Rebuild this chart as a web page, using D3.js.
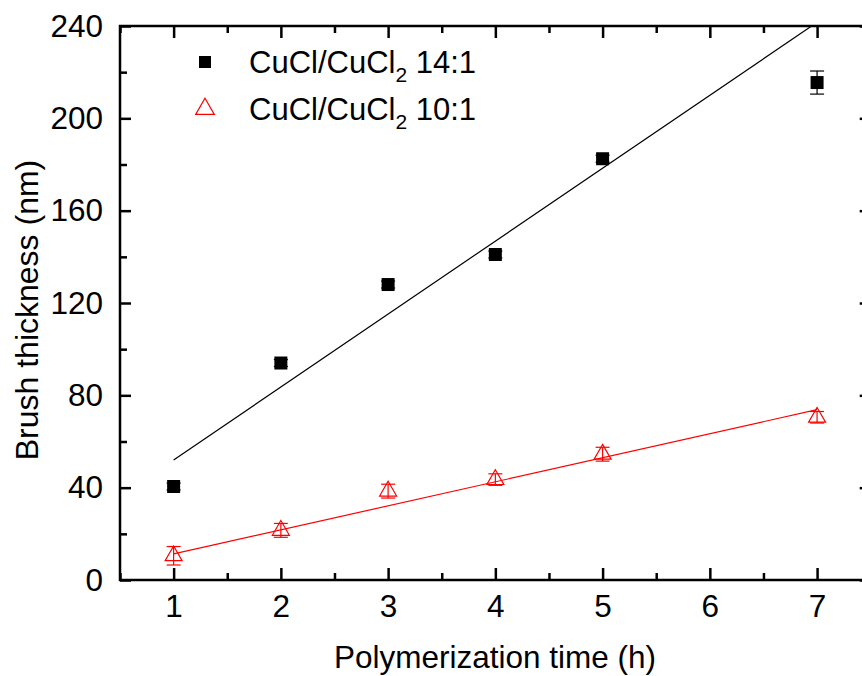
<!DOCTYPE html>
<html>
  <head>
    <meta charset="utf-8">
    <script src="https://d3js.org/d3.v7.min.js"></script>
    <style>
      body { margin: 0; background: #fff; }
      text { font-family: "Liberation Sans", Arial, sans-serif; fill: #000; }
    </style>
  </head>
<body>
  <script type="text/javascript">
    // data
    var hours = [1, 2, 3, 4, 5, 7];
    var thick14 = [40.5, 94, 128, 141, 182.5, 215.5];
    var err14 = [1.5, 1.5, 1.5, 1.5, 1.5, 5];
    var thick10 = [10.5, 21.5, 38.5, 43.5, 54.5, 70.5];
    var err10 = [4, 3, 3, 2.5, 3, 2.5];
    // linear fit lines, end points
    var fitHours = [1, 7];
    var fit14 = [52, 241.6];
    var fit10 = [11.3, 73.8];
    var xTicks = [1, 2, 3, 4, 5, 6, 7];
    var xMinor = [0.5, 1.5, 2.5, 3.5, 4.5, 5.5, 6.5, 7.5];
    var yTicks = [0, 40, 80, 120, 160, 200, 240];
    var yMinor = [20, 60, 100, 140, 180, 220];
    var legendLabels = [["CuCl/CuCl", "2", " 14:1"], ["CuCl/CuCl", "2", " 10:1"]];

    var width = 862, height = 676;
    var pLeft = 120, pRight = 870.7, pTop = 26, pBottom = 580;

    var svg = d3.select("body").append("svg")
        .attr("width", width)
        .attr("height", height);

    var x = d3.scaleLinear().domain([0.5, 7.5]).range([pLeft, pRight]);
    var y = d3.scaleLinear().domain([0, 240]).range([pBottom, pTop]);

    svg.append("clipPath").attr("id", "plot")
      .append("rect")
        .attr("x", pLeft).attr("y", pTop)
        .attr("width", pRight - pLeft).attr("height", pBottom - pTop);

    /*
      axes, ticks pointing inwards
    */
    function styleAxis(g) {
      g.attr("font-size", 31.5).attr("font-family", "Liberation Sans, Arial, sans-serif");
      g.selectAll(".domain").remove();
      g.selectAll("line").attr("stroke", "#000").attr("stroke-width", 2.5);
      g.selectAll("text").attr("fill", "#000");
    }

    svg.append("g").attr("transform", "translate(0," + pBottom + ")")
      .call(d3.axisBottom(x).tickValues(xTicks).tickFormat(d3.format("d"))
            .tickSizeInner(-12).tickSizeOuter(0).tickPadding(15))
      .call(styleAxis);
    svg.append("g").attr("transform", "translate(0," + pBottom + ")")
      .call(d3.axisBottom(x).tickValues(xMinor).tickFormat("")
            .tickSizeInner(-7).tickSizeOuter(0))
      .call(styleAxis);
    svg.append("g").attr("transform", "translate(0," + pTop + ")")
      .call(d3.axisTop(x).tickValues(xTicks).tickFormat("")
            .tickSizeInner(-12).tickSizeOuter(0))
      .call(styleAxis);
    svg.append("g").attr("transform", "translate(0," + pTop + ")")
      .call(d3.axisTop(x).tickValues(xMinor).tickFormat("")
            .tickSizeInner(-7).tickSizeOuter(0))
      .call(styleAxis);

    svg.append("g").attr("transform", "translate(" + pLeft + ",0)")
      .call(d3.axisLeft(y).tickValues(yTicks)
            .tickSizeInner(-11).tickSizeOuter(0).tickPadding(17))
      .call(styleAxis);
    svg.append("g").attr("transform", "translate(" + pLeft + ",0)")
      .call(d3.axisLeft(y).tickValues(yMinor).tickFormat("")
            .tickSizeInner(-7).tickSizeOuter(0))
      .call(styleAxis);
    svg.append("g").attr("transform", "translate(" + pRight + ",0)")
      .call(d3.axisRight(y).tickValues(yTicks).tickFormat("")
            .tickSizeInner(-11).tickSizeOuter(0))
      .call(styleAxis);
    svg.append("g").attr("transform", "translate(" + pRight + ",0)")
      .call(d3.axisRight(y).tickValues(yMinor).tickFormat("")
            .tickSizeInner(-7).tickSizeOuter(0))
      .call(styleAxis);

    // frame
    svg.append("rect")
      .attr("x", pLeft).attr("y", pTop)
      .attr("width", pRight - pLeft).attr("height", pBottom - pTop)
      .attr("fill", "none").attr("stroke", "#000").attr("stroke-width", 2.5);

    // axis titles
    svg.append("text")
      .attr("x", 495).attr("y", 668)
      .attr("text-anchor", "middle").attr("font-size", 31.5)
      .text("Polymerization time (h)");
    svg.append("text")
      .attr("transform", "translate(38,310) rotate(-90)")
      .attr("text-anchor", "middle").attr("font-size", 32)
      .text("Brush thickness (nm)");

    /*
      fit lines
    */
    var plot = svg.append("g").attr("clip-path", "url(#plot)");
    var line = d3.line().x(function(d) { return x(d[0]); })
                        .y(function(d) { return y(d[1]); });
    plot.append("path").datum(d3.zip(fitHours, fit14))
      .attr("d", line).attr("fill", "none")
      .attr("stroke", "#000").attr("stroke-width", 1.2);
    plot.append("path").datum(d3.zip(fitHours, fit10))
      .attr("d", line).attr("fill", "none")
      .attr("stroke", "#f00").attr("stroke-width", 1.2);

    /*
      error bars and markers
    */
    function errorBars(vals, errs, color) {
      var g = svg.append("g").attr("stroke", color).attr("stroke-width", 1.2);
      hours.forEach(function(h, i) {
        var cx = x(h), lo = y(vals[i] - errs[i]), hi = y(vals[i] + errs[i]);
        g.append("line").attr("x1", cx).attr("x2", cx).attr("y1", lo).attr("y2", hi);
        g.append("line").attr("x1", cx - 7).attr("x2", cx + 7).attr("y1", lo).attr("y2", lo);
        g.append("line").attr("x1", cx - 7).attr("x2", cx + 7).attr("y1", hi).attr("y2", hi);
      });
    }
    errorBars(thick14, err14, "#000");
    errorBars(thick10, err10, "#f00");

    var square = d3.symbol().type(d3.symbolSquare).size(169);
    var triangle = d3.symbol().type(d3.symbolTriangle).size(125);

    svg.append("g").selectAll("path").data(hours).join("path")
      .attr("transform", function(d, i) { return "translate(" + x(d) + "," + y(thick14[i]) + ")"; })
      .attr("d", square).attr("fill", "#000");
    svg.append("g").selectAll("path").data(hours).join("path")
      .attr("transform", function(d, i) { return "translate(" + x(d) + "," + y(thick10[i]) + ")"; })
      .attr("d", triangle).attr("fill", "none")
      .attr("stroke", "#f00").attr("stroke-width", 1.2);

    /*
      legend
    */
    var legend = svg.append("g");
    legend.append("path").attr("transform", "translate(205,62)")
      .attr("d", d3.symbol().type(d3.symbolSquare).size(144)).attr("fill", "#000");
    legend.append("path").attr("transform", "translate(205,109)")
      .attr("d", d3.symbol().type(d3.symbolTriangle).size(150))
      .attr("fill", "none").attr("stroke", "#f00").attr("stroke-width", 1.2);
    legendLabels.forEach(function(parts, i) {
      var t = legend.append("text")
        .attr("x", 249).attr("y", 73 + i * 47).attr("font-size", 31);
      t.append("tspan").text(parts[0]);
      t.append("tspan").attr("font-size", 21).attr("dy", 9).text(parts[1]);
      t.append("tspan").attr("dy", -9).text(parts[2]);
    });
  </script>
</body>
</html>
